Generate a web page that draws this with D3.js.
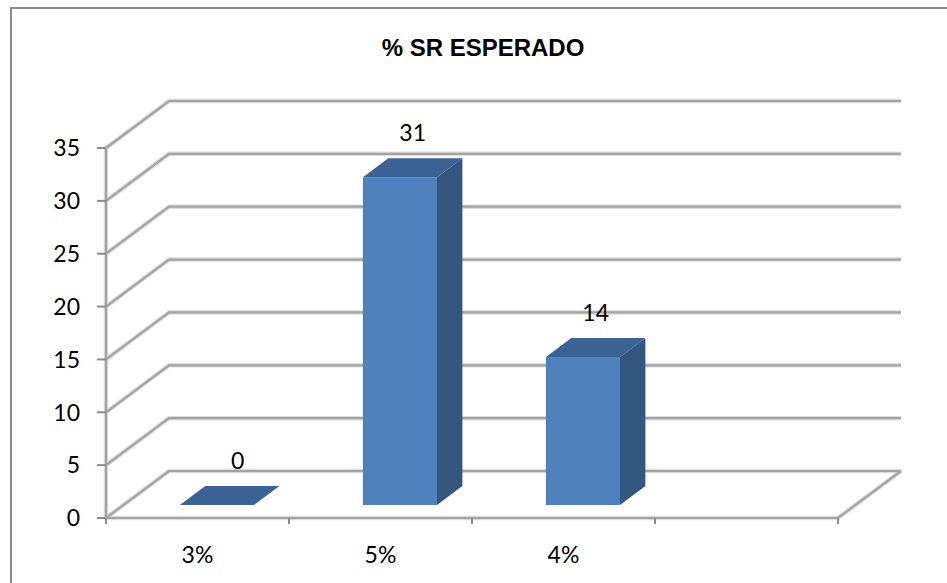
<!DOCTYPE html>
<html>
<head>
<meta charset="utf-8">
<script src="https://cdn.jsdelivr.net/npm/d3@7"></script>
<style>
  html, body { margin: 0; padding: 0; background: #fff; }
  svg { display: block; }
</style>
</head>
<body>
<svg id="chart" width="947" height="583"></svg>
<script>
// Chart data
const title = "% SR ESPERADO";
const categories = ["3%", "5%", "4%", ""];
const values = [0, 31, 14, null];
const yTicks = [0, 5, 10, 15, 20, 25, 30, 35];

const svg = d3.select("#chart");

// Plot frame (front plane) and the perspective offset of the back wall
const x0 = 106, x1 = 838, yBottom = 518, yTop = 148;
const depthX = 63, depthY = -47;

const x = d3.scaleBand().domain(categories).range([x0, x1]).padding(0);
const y = d3.scaleLinear().domain([0, 35]).range([yBottom, yTop]);

const labelFont = "Lato, 'Open Sans', sans-serif";
const labelSize = 23;

// Outer chart border
svg.append("rect")
  .attr("x", 11).attr("y", 8)
  .attr("width", 1000).attr("height", 1000)
  .attr("fill", "none").attr("stroke", "#8c8c8c").attr("stroke-width", 2);

// Title
svg.append("text")
  .attr("x", 483).attr("y", 56)
  .attr("text-anchor", "middle")
  .attr("font-family", "'Liberation Sans', Arial, sans-serif")
  .attr("font-weight", "bold")
  .attr("font-size", 24)
  .attr("fill", "#000")
  .text(title);

// Gridlines: side-wall diagonal + back-wall horizontal
const grid = svg.append("g");
function gridPath(v) {
  const yf = y(v);
  return `M${x0},${yf}L${x0 + depthX},${yf + depthY}L${x1 + depthX},${yf + depthY}`;
}
[["#dcdcdc", 4.5], ["#a3a3a3", 2.2]].forEach(([c, w]) => {
  grid.selectAll(null).data(yTicks).enter().append("path")
    .attr("d", d => gridPath(d))
    .attr("fill", "none").attr("stroke", c).attr("stroke-width", w);
  // floor: front edge and right diagonal
  grid.append("path")
    .attr("d", `M${x0},${yBottom}L${x1},${yBottom}L${x1 + depthX},${yBottom + depthY}`)
    .attr("fill", "none").attr("stroke", c).attr("stroke-width", w);
  // vertical axis line
  grid.append("path")
    .attr("d", `M${x0},${yTop}L${x0},${yBottom}`)
    .attr("fill", "none").attr("stroke", c).attr("stroke-width", w);
});

// Y axis ticks and labels
const yAxis = svg.append("g");
yAxis.selectAll("line").data(yTicks).enter().append("line")
  .attr("x1", x0 - 9).attr("x2", x0)
  .attr("y1", d => y(d)).attr("y2", d => y(d))
  .attr("stroke", "#8c8c8c").attr("stroke-width", 2);
yAxis.selectAll("text").data(yTicks).enter().append("text")
  .attr("x", 80).attr("y", d => y(d))
  .attr("dy", "0.36em")
  .attr("text-anchor", "end")
  .attr("font-family", labelFont)
  .attr("font-size", labelSize)
  .attr("fill", "#000")
  .text(d => d);

// X axis ticks at category boundaries, and labels
const bounds = categories.map(c => x(c)).concat([x1]);
svg.append("g").selectAll("line").data(bounds).enter().append("line")
  .attr("x1", d => d).attr("x2", d => d)
  .attr("y1", yBottom).attr("y2", yBottom + 6)
  .attr("stroke", "#8c8c8c").attr("stroke-width", 2);
svg.append("g").selectAll("text").data(categories).enter().append("text")
  .attr("x", d => x(d) + x.bandwidth() / 2)
  .attr("y", 563)
  .attr("text-anchor", "middle")
  .attr("font-family", labelFont)
  .attr("font-size", labelSize)
  .attr("fill", "#000")
  .text(d => d);

// 3D bars: front face, side face, top face
const fFront = 0.277, fBack = 0.68;       // bar placement within the depth
const barW = x.bandwidth() * 0.405;
const bars = categories.map((c, i) => ({ c, v: values[i] })).filter(d => d.v !== null);

const barG = svg.append("g");
bars.forEach(d => {
  const cx = x(d.c) + x.bandwidth() / 2 + depthX * fFront;
  const left = cx - barW / 2 + 2, right = left + barW;
  const oy = depthY * fFront;
  const yb = y(0) + oy, yt = y(d.v) + oy;
  const ddx = depthX * (fBack - fFront), ddy = depthY * (fBack - fFront);
  // side
  barG.append("path")
    .attr("d", `M${right},${yb}L${right + ddx},${yb + ddy}L${right + ddx},${yt + ddy}L${right},${yt}Z`)
    .attr("fill", "#34567f");
  // front
  barG.append("rect")
    .attr("x", left).attr("y", yt)
    .attr("width", barW).attr("height", yb - yt)
    .attr("fill", "#4f81bd");
  // top
  barG.append("path")
    .attr("d", `M${left},${yt}L${right},${yt}L${right + ddx},${yt + ddy}L${left + ddx},${yt + ddy}Z`)
    .attr("fill", "#3c6395");
  // value label
  barG.append("text")
    .attr("x", (left + right) / 2 + ddx / 2 + (d.v === 0 ? 8 : 0))
    .attr("y", yt + ddy - 17)
    .attr("text-anchor", "middle")
    .attr("font-family", labelFont)
    .attr("font-size", labelSize)
    .attr("fill", "#000")
    .text(d.v);
});
</script>
</body>
</html>
